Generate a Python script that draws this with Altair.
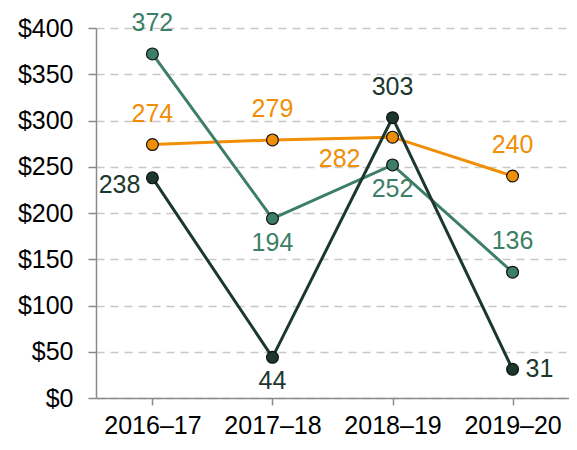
import altair as alt
import pandas as pd

years = ["2016–17", "2017–18", "2018–19", "2019–20"]
orange_vals = [274, 279, 282, 240]
green_vals = [372, 194, 252, 136]
dark_vals = [238, 44, 303, 31]

series_names = ["orange", "green", "dark"]
series_colors = ["#F08E05", "#3D7F66", "#1C382C"]

# label placement per point
orange_place = ["above", "above", "leftbelow", "above"]
green_place = ["above", "below", "below", "above"]
dark_place = ["left", "below", "above", "right"]

rows = []
for name, vals, places in [("orange", orange_vals, orange_place),
                           ("green", green_vals, green_place),
                           ("dark", dark_vals, dark_place)]:
    for y, v, p in zip(years, vals, places):
        rows.append({"year": y, "value": v, "series": name, "place": p})
df = pd.DataFrame(rows)

FONT = "Liberation Sans"
FS = 25

x = alt.X("year:N", sort=years, title=None,
          scale=alt.Scale(type="point", padding=0.47),
          axis=alt.Axis(labelAngle=0, labelFontSize=FS, labelColor="#000",
                        labelFont=FONT, domainColor="#8a8a8a",
                        tickColor="#8a8a8a", tickSize=7, labelPadding=8,
                        domainWidth=1.5, tickWidth=1.5))
y = alt.Y("value:Q", title=None,
          scale=alt.Scale(domain=[0, 400], nice=False),
          axis=alt.Axis(values=list(range(0, 401, 50)), format="$,.0f",
                        labelFontSize=FS, labelColor="#000",
                        labelFont=FONT, domainColor="#8a8a8a",
                        tickColor="#8a8a8a", tickSize=8, labelPadding=15,
                        domainWidth=1.5, tickWidth=1.5,
                        gridColor="#c8c8c8", gridDash=[8, 6], gridWidth=1.3))
color = alt.Color("series:N", scale=alt.Scale(domain=series_names, range=series_colors), legend=None)

base = alt.Chart(df)
lines = base.mark_line(strokeWidth=3).encode(x=x, y=y, color=color, detail="series:N")
points = base.mark_point(filled=True, size=140, stroke="#111", strokeWidth=1.2, opacity=1).encode(
    x=x, y=y, fill=alt.Fill("series:N", scale=alt.Scale(domain=series_names, range=series_colors), legend=None))

offsets = {"above": (0, -31, "center"), "below": (0, 24, "center"),
           "left": (-12, 7, "right"), "right": (13, 0, "left"),
           "leftbelow": (-32, 22, "right")}
texts = []
for p, (dx, dy, al) in offsets.items():
    texts.append(base.transform_filter(alt.datum.place == p).mark_text(
        fontSize=FS, font=FONT, dx=dx, dy=dy, align=al, baseline="middle").encode(
        x=x, y=y, text="value:Q", color=color))

chart = alt.layer(lines, points, *texts).properties(
    width=473, height=370,
    autosize=alt.AutoSizeParams(type="none"),
    padding={"left": 88, "top": 20, "right": 0, "bottom": 44},
).configure_view(stroke=None).configure_axisY(grid=True).configure_axisX(grid=False)

chart.save("out.html", embed_options={"renderer": "svg", "actions": False})
